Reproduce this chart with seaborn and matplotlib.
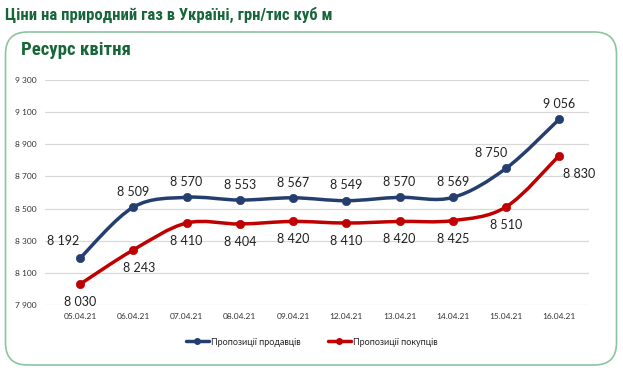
import matplotlib
matplotlib.use("Agg")
import matplotlib.pyplot as plt
import seaborn as sns
import numpy as np
from matplotlib.path import Path
from matplotlib.patches import PathPatch, FancyBboxPatch
from matplotlib.lines import Line2D
import logging

logging.getLogger("matplotlib.font_manager").setLevel(logging.ERROR)

# data
dates = ["05.04.21", "06.04.21", "07.04.21", "08.04.21", "09.04.21",
         "12.04.21", "13.04.21", "14.04.21", "15.04.21", "16.04.21"]
sellers = [8192, 8509, 8570, 8553, 8567, 8549, 8570, 8569, 8750, 9056]
buyers = [8030, 8243, 8410, 8404, 8420, 8410, 8420, 8425, 8510, 8830]
y_ticks = [7900, 8100, 8300, 8500, 8700, 8900, 9100, 9300]

NAVY = "#243f6f"
RED = "#c00000"
GREEN = "#17663a"
HEAD = ["Roboto Condensed", "Liberation Sans Narrow", "Lato", "DejaVu Sans"]

sns.set_theme(style="white")
plt.rcParams["font.family"] = ["Lato", "DejaVu Sans"]


def fmt(v):
    return f"{v:,}".replace(",", " ")


def smooth_path(xs, ys):
    # excel-like smoothed line: cubic bezier segments
    pts = np.column_stack([xs, ys]).astype(float)
    verts = [pts[0]]
    codes = [Path.MOVETO]
    n = len(pts)
    for i in range(n - 1):
        p0 = pts[i - 1] if i > 0 else pts[i]
        p1 = pts[i]
        p2 = pts[i + 1]
        p3 = pts[i + 2] if i + 2 < n else pts[i + 1]
        c1 = p1 + (p2 - p0) / 6
        c2 = p2 - (p3 - p1) / 6
        verts += [c1, c2, p2]
        codes += [Path.CURVE4] * 3
    return Path(verts, codes)


fig = plt.figure(figsize=(6.23, 3.74), dpi=100)

# background box in pixel coords
bg = fig.add_axes([0, 0, 1, 1])
bg.set_xlim(0, 623)
bg.set_ylim(374, 0)
bg.axis("off")
box = FancyBboxPatch((5.5, 32), 611, 333, boxstyle="round,pad=0,rounding_size=22",
                     fc="white", ec="#8cc4a0", lw=1.2)
bg.add_patch(box)
bg.text(5, 15, "Ціни на природний газ в Україні, грн/тис куб м", family=HEAD,
        fontsize=12, fontweight="bold", color=GREEN, va="center", ha="left")
bg.text(21, 50, "Ресурс квітня", family=HEAD, fontsize=13.5, fontweight="bold",
        color=GREEN, va="center", ha="left")

ax = fig.add_axes([45 / 623, 1 - 305 / 374, 544 / 623, 225 / 374])
ax.patch.set_alpha(0)
x = np.arange(len(dates))

for vals, col in [(sellers, NAVY), (buyers, RED)]:
    ax.add_patch(PathPatch(smooth_path(x, vals), fc="none", ec=col, lw=2.5,
                           capstyle="round", joinstyle="round", zorder=3))
    sns.scatterplot(x=x, y=vals, ax=ax, color=col, s=36, edgecolor=col,
                    zorder=4, legend=False)

# data labels (offsets in points)
seller_off = [(-12, 12), (0, 11), (0, 11), (0, 11), (0, 11),
              (0, 11), (0, 11), (0, 11), (-11, 11), (0, 11)]
buyer_off = [(0, -13), (4, -13), (0, -13), (0, -13), (0, -13),
             (0, -13), (0, -13), (0, -13), (0, -13), (14, -13)]
for i in x:
    ax.annotate(fmt(sellers[i]), (i, sellers[i]), xytext=seller_off[i],
                textcoords="offset points", ha="center", va="center",
                fontsize=9, color="#222222")
    ax.annotate(fmt(buyers[i]), (i, buyers[i]), xytext=buyer_off[i],
                textcoords="offset points", ha="center", va="center",
                fontsize=9, color="#222222")

ax.set_xlim(-0.66, 9.56)
ax.set_ylim(7900, 9300)
ax.set_yticks(y_ticks)
ax.set_yticklabels([fmt(v) for v in y_ticks], fontsize=6, color="#333333")
ax.set_xticks(x)
ax.set_xticklabels(dates, fontsize=6, color="#333333")
ax.tick_params(axis="both", length=0, pad=6)
ax.grid(axis="y", color="#d9d9d9", lw=0.9)
for s in ax.spines.values():
    s.set_visible(False)
ax.set_xlabel("")
ax.set_ylabel("")

handles = [Line2D([], [], color=NAVY, lw=2.5, marker="o", ms=4),
           Line2D([], [], color=RED, lw=2.5, marker="o", ms=4)]
ax.legend(handles, ["Пропозиції продавців", "Пропозиції покупців"],
          loc="center", bbox_to_anchor=(0.49, -0.165), ncol=2, frameon=False,
          fontsize=6.5, handlelength=2.6, handletextpad=0.2, columnspacing=3)

fig.savefig("out.png", dpi=100)
